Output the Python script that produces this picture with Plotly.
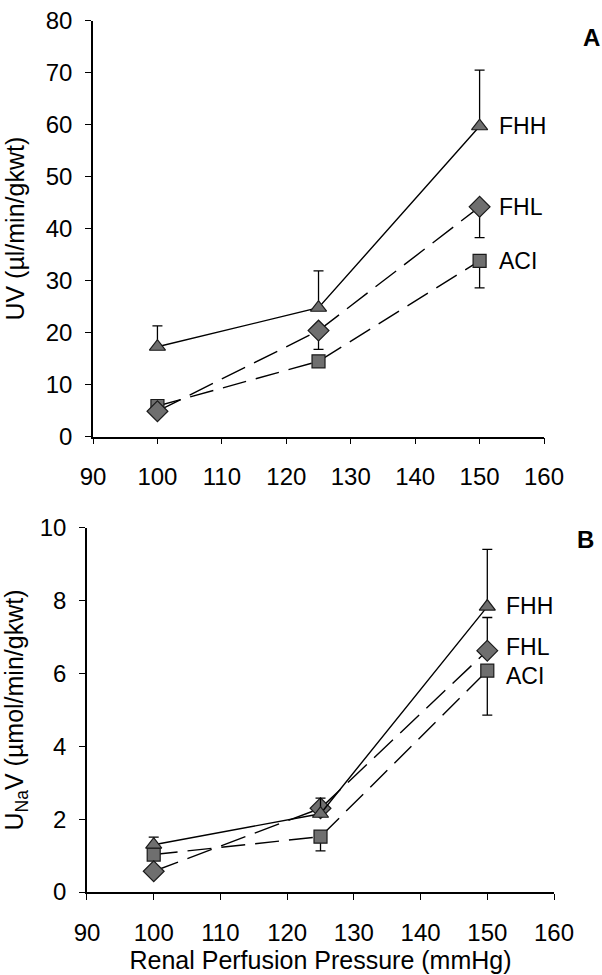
import plotly.graph_objects as go

# ---------------- data ----------------
pressure = [100, 125, 150]
x_ticks = [90, 100, 110, 120, 130, 140, 150, 160]

series_names = ["FHH", "FHL", "ACI"]

# Panel A: UV (µl/min/gkwt)
uv_fhh = [17.3, 24.8, 59.7]
uv_fhl = [4.9, 20.4, 44.2]
uv_aci = [5.9, 14.5, 33.8]
uv_fhh_err_up = [4.0, 7.1, 10.8]
uv_fhl_err_down = [0.0, 3.6, 5.9]
uv_aci_err_down = [0.0, 0.0, 5.2]
uv_ticks = [0, 10, 20, 30, 40, 50, 60, 70, 80]

# Panel B: UNaV (µmol/min/gkwt)
una_fhh = [1.3, 2.15, 7.84]
una_fhl = [0.57, 2.3, 6.63]
una_aci = [1.03, 1.52, 6.08]
una_fhh_err_up = [0.21, 0.43, 1.57]
una_fhl_err_up = [0.0, 0.0, 0.91]
una_aci_err_down = [0.0, 0.39, 1.22]
una_ticks = [0, 2, 4, 6, 8, 10]

FONT = "Liberation Sans, Arial, sans-serif"
MARKER_FILL = "#6f6f6f"

fig = go.Figure()

def add_series(xa, ya, y, name, symbol, size, dash, err_up=None, err_down=None):
    ey = None
    if err_up is not None or err_down is not None:
        up = err_up if err_up is not None else [0] * len(y)
        dn = err_down if err_down is not None else [0] * len(y)
        ey = dict(type="data", symmetric=False, array=up, arrayminus=dn,
                  color="black", thickness=1.3, width=5)
    fig.add_trace(go.Scatter(
        x=pressure, y=y, name=name, mode="lines+markers",
        xaxis=xa, yaxis=ya,
        line=dict(color="black", width=1.4, dash=dash),
        marker=dict(symbol=symbol, size=size, color=MARKER_FILL,
                    line=dict(color="#1a1a1a", width=1.2)),
        error_y=ey, showlegend=False, cliponaxis=False))

# Panel A
add_series("x", "y", uv_aci, "ACI", "square", 13, "24px,10px", err_down=uv_aci_err_down)
add_series("x", "y", uv_fhl, "FHL", "diamond", 16, "26px,10px", err_down=uv_fhl_err_down)
add_series("x", "y", uv_fhh, "FHH", "triangle-up", 14, "solid", err_up=uv_fhh_err_up)
# Panel B
add_series("x2", "y2", una_aci, "ACI", "square", 13, "24px,10px", err_down=una_aci_err_down)
add_series("x2", "y2", una_fhl, "FHL", "diamond", 16, "26px,10px", err_up=una_fhl_err_up)
add_series("x2", "y2", una_fhh, "FHH", "triangle-up", 14, "solid", err_up=una_fhh_err_up)

LABEL_FONT = dict(family=FONT, size=23, color="black")

# series labels next to last points
annotations = []
for name, vals in zip(series_names, [uv_fhh, uv_fhl, uv_aci]):
    annotations.append(dict(x=pressure[-1], y=vals[-1], xref="x", yref="y", text=name,
                            showarrow=False, xanchor="left", yanchor="middle", xshift=17,
                            font=LABEL_FONT))
b_yshift = [1, 4, -5]
for name, vals, ys in zip(series_names, [una_fhh, una_fhl, una_aci], b_yshift):
    annotations.append(dict(x=pressure[-1], y=vals[-1], xref="x2", yref="y2", text=name,
                            showarrow=False, xanchor="left", yanchor="middle", xshift=17,
                            yshift=ys, font=LABEL_FONT))
annotations.append(dict(x=0.982, y=0.962, xref="paper", yref="paper", text="<b>A</b>",
                        showarrow=False, xanchor="center", yanchor="middle",
                        font=dict(family=FONT, size=24, color="black")))
annotations.append(dict(x=0.972, y=0.447, xref="paper", yref="paper", text="<b>B</b>",
                        showarrow=False, xanchor="center", yanchor="middle",
                        font=dict(family=FONT, size=24, color="black")))

axis_common = dict(showline=True, linecolor="black", linewidth=1.5, ticks="outside",
                   ticklen=6, tickwidth=1.3, tickcolor="black", showgrid=False,
                   zeroline=False, mirror=False, automargin=False,
                   tickfont=dict(family=FONT, size=24, color="black"))

fig.update_layout(
    width=602, height=975,
    margin=dict(l=0, r=0, t=0, b=0),
    paper_bgcolor="white", plot_bgcolor="white",
    font=dict(family=FONT, color="black"),
    xaxis=dict(domain=[0.1545, 0.9037], range=[90, 160], tickvals=x_ticks,
               anchor="y", ticklabelstandoff=12, **axis_common),
    yaxis=dict(domain=[0.5521, 0.9788], range=[0, 80], tickvals=uv_ticks,
               anchor="x", ticklabelstandoff=8,
               title=dict(text="UV (µl/min/gkwt)", standoff=14,
                          font=dict(family=FONT, size=25, color="black")),
               **axis_common),
    xaxis2=dict(domain=[0.1445, 0.9203], range=[90, 160], tickvals=x_ticks,
                anchor="y2", ticklabelstandoff=12,
                title=dict(text="Renal Perfusion Pressure (mmHg)", standoff=6,
                           font=dict(family=FONT, size=25, color="black")),
                **axis_common),
    yaxis2=dict(domain=[0.0851, 0.4585], range=[0, 10], tickvals=una_ticks,
                anchor="x2", ticklabelstandoff=8,
                title=dict(text="U<sub>Na</sub>V (µmol/min/gkwt)", standoff=14,
                           font=dict(family=FONT, size=25, color="black")),
                **axis_common),
    annotations=annotations,
)

fig.write_html("out.html")
